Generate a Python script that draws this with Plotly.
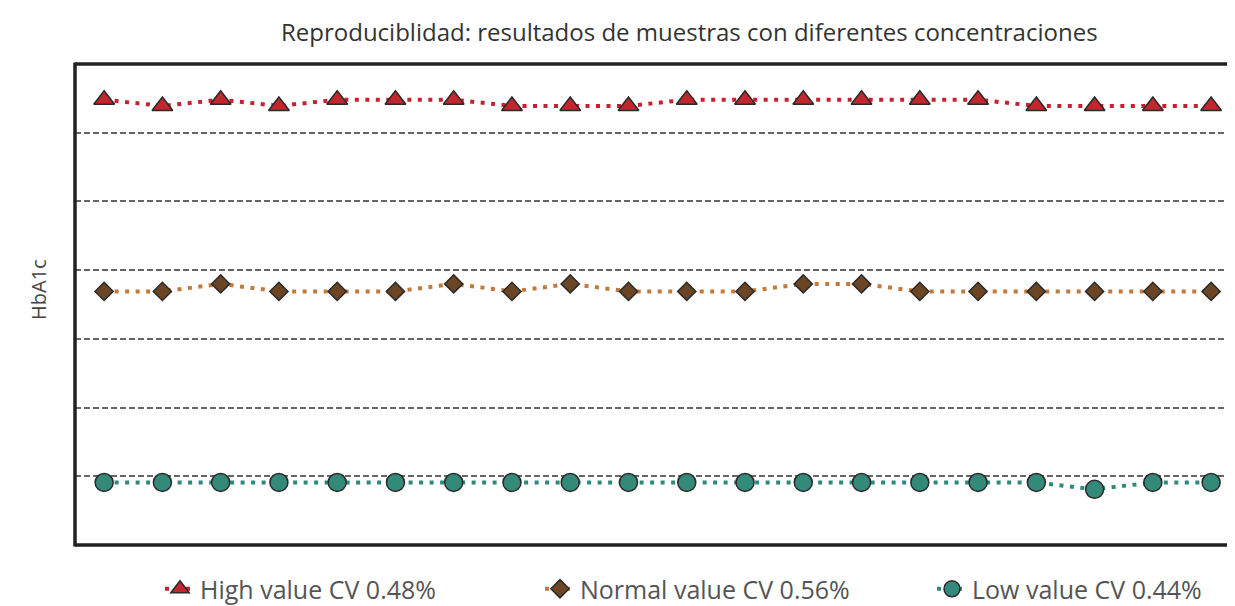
import plotly.graph_objects as go

runs = list(range(1, 21))
high_values = [10.48, 10.39, 10.48, 10.39, 10.48, 10.48, 10.48, 10.39, 10.39, 10.39,
               10.48, 10.48, 10.48, 10.48, 10.48, 10.48, 10.39, 10.39, 10.39, 10.39]
normal_values = [7.69, 7.69, 7.80, 7.69, 7.69, 7.69, 7.80, 7.69, 7.80, 7.69,
                 7.69, 7.69, 7.80, 7.80, 7.69, 7.69, 7.69, 7.69, 7.69, 7.69]
low_values = [4.91, 4.91, 4.91, 4.91, 4.91, 4.91, 4.91, 4.91, 4.91, 4.91,
              4.91, 4.91, 4.91, 4.91, 4.91, 4.91, 4.91, 4.81, 4.91, 4.91]
series_names = ["High value CV 0.48%", "Normal value CV 0.56%", "Low value CV 0.44%"]
title_text = "Reproduciblidad: resultados de muestras con diferentes concentraciones"
y_label = "HbA1c"

FONT = "Open Sans"
dash = "4px,6.5px"

fig = go.Figure()
fig.add_trace(go.Scatter(
    x=runs, y=high_values, name=series_names[0], mode="lines+markers",
    line=dict(color="#c8202f", width=4, dash=dash),
    marker=dict(symbol="triangle-up", size=18, color="#c1272d",
                line=dict(color="#2a2a2a", width=1.5)),
    legend="legend"))
fig.add_trace(go.Scatter(
    x=runs, y=normal_values, name=series_names[1], mode="lines+markers",
    line=dict(color="#c27a3c", width=4, dash=dash),
    marker=dict(symbol="diamond", size=14, color="#6b4524",
                line=dict(color="#2a2a2a", width=1.5)),
    legend="legend2"))
fig.add_trace(go.Scatter(
    x=runs, y=low_values, name=series_names[2], mode="lines+markers",
    line=dict(color="#2e8a78", width=4, dash=dash),
    marker=dict(symbol="circle", size=18, color="#348a78",
                line=dict(color="#2a2a2a", width=1.5)),
    legend="legend3"))

# page body has an 8px offset; figure spans window x 8..1235, y 8..606
OFF = 8
L, R, T, B = 67, 0, 56, 61
W, H = 1227, 598
pw = W - L - R
ph = H - T - B

def px_x(p):  # window pixel -> paper
    return (p - OFF - L) / pw

def px_y(p):
    return (OFF + T + ph - p) / ph

legend_common = dict(orientation="h", yanchor="middle", xanchor="left",
                     font=dict(family=FONT, size=25, color="#555555"),
                     bgcolor="rgba(0,0,0,0)", itemsizing="trace")
fig.update_layout(
    width=W, height=H,
    margin=dict(l=L, r=R, t=T, b=B, autoexpand=False),
    paper_bgcolor="white", plot_bgcolor="white",
    showlegend=True,
    legend=dict(x=px_x(160), y=px_y(589), **legend_common),
    legend2=dict(x=px_x(540), y=px_y(589), **legend_common),
    legend3=dict(x=px_x(932), y=px_y(589), **legend_common),
    xaxis=dict(range=[0.5, 20.41], showgrid=False, showticklabels=False,
               zeroline=False, showline=False, ticks=""),
    yaxis=dict(range=[4, 11], tickvals=[5, 6, 7, 8, 9, 10], showticklabels=False,
               showgrid=True, gridcolor="#666666", gridwidth=1.8, griddash="6px,3px",
               zeroline=False, showline=False, ticks=""),
    annotations=[
        dict(text=title_text, xref="paper", yref="paper", x=px_x(689), y=px_y(31),
             xanchor="center", yanchor="middle", showarrow=False,
             font=dict(family=FONT, size=24, color="#333333")),
        dict(text=y_label, xref="paper", yref="paper", x=px_x(38), y=px_y(290),
             xanchor="center", yanchor="middle", showarrow=False, textangle=-90,
             font=dict(family=FONT, size=20, color="#444444")),
    ],
    shapes=[
        dict(type="line", xref="paper", yref="paper", x0=0, x1=0, y0=-0.003, y1=1.003,
             line=dict(color="#222222", width=3.5)),
        dict(type="line", xref="paper", yref="paper", x0=0, x1=1.01, y0=1, y1=1,
             line=dict(color="#222222", width=3.5)),
        dict(type="line", xref="paper", yref="paper", x0=0, x1=1.01, y0=0, y1=0,
             line=dict(color="#222222", width=3.5)),
    ],
)

fig.write_html("out.html")
